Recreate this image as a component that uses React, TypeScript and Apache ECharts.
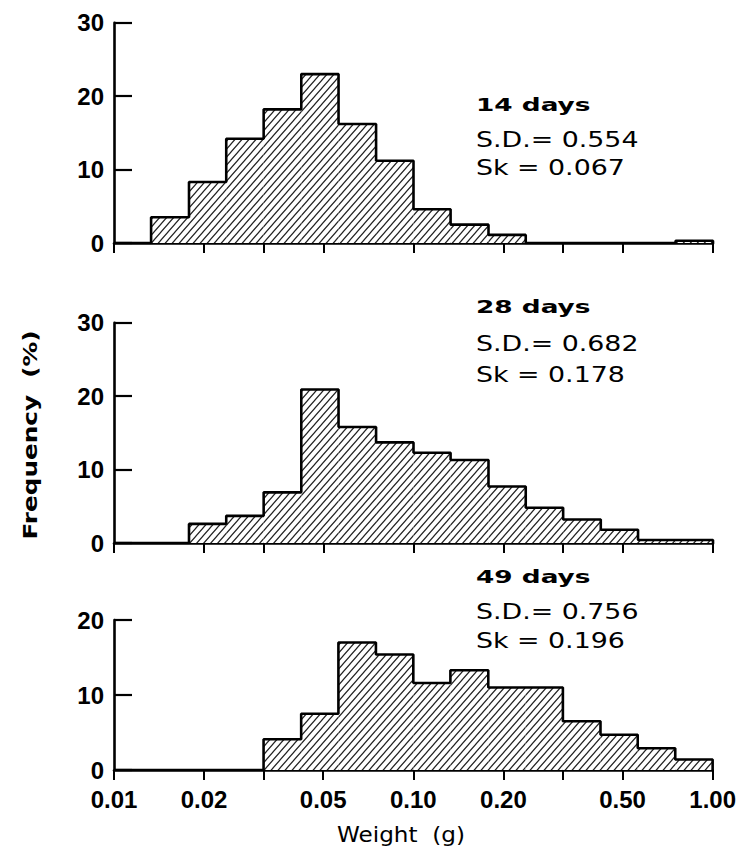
import React, { useEffect, useRef } from "react";
import * as echarts from "echarts";

// Bin edges (g), logarithmic bins, 8 per decade
const binEdges = [
  0.01, 0.0133, 0.0178, 0.0237, 0.0316, 0.0422, 0.0562, 0.075, 0.1,
  0.133, 0.178, 0.237, 0.316, 0.422, 0.562, 0.75, 1.0,
];

// Frequency (%) per bin
const freq14 = [0, 3.5, 8.3, 14.2, 18.2, 23.0, 16.2, 11.2, 4.6, 2.5, 1.1, 0, 0, 0, 0, 0.3];
const freq28 = [0, 0, 2.6, 3.7, 6.9, 20.9, 15.8, 13.7, 12.3, 11.3, 7.7, 4.8, 3.2, 1.8, 0.4, 0.4];
const freq49 = [0, 0, 0, 0, 4.1, 7.5, 17.0, 15.4, 11.6, 13.3, 11.0, 11.0, 6.5, 4.7, 2.9, 1.4];

const panelTitles = ["14 days", "28 days", "49 days"];
const panelSD = ["S.D.= 0.554", "S.D.= 0.682", "S.D.= 0.756"];
const panelSk = ["Sk = 0.067", "Sk = 0.178", "Sk = 0.196"];
const panelYMax = [30, 30, 20];

const xTickValues = [0.01, 0.02, 0.0316, 0.05, 0.1, 0.2, 0.316, 0.5, 1.0];
const xLabelValues = [0.01, 0.02, 0.05, 0.1, 0.2, 0.5, 1.0];
const xLabelTexts = ["0.01", "0.02", "0.05", "0.10", "0.20", "0.50", "1.00"];

const yAxisTitle = "Frequency  (%)";
const xAxisTitle = "Weight  (g)";

function makeHatch() {
  const w = 7;
  const h = 8;
  const c = document.createElement("canvas");
  c.width = w;
  c.height = h;
  const ctx = c.getContext("2d")!;
  ctx.fillStyle = "#ffffff";
  ctx.fillRect(0, 0, w, h);
  ctx.strokeStyle = "#222";
  ctx.lineWidth = 1.2;
  ctx.beginPath();
  for (const off of [-w, 0, w]) {
    ctx.moveTo(off - w, 2 * h);
    ctx.lineTo(off + 2 * w, -h);
  }
  ctx.stroke();
  return {
    image: c.toDataURL(),
    repeat: "repeat",
    imageWidth: w,
    imageHeight: h,
  };
}

export default function App() {
  const ref = useRef<HTMLDivElement>(null);

  useEffect(() => {
    if (!ref.current) return;
    const chart = echarts.init(ref.current, null, { renderer: "svg" });
    const hatch = makeHatch();
    const allFreq = [freq14, freq28, freq49];

    const grids = [
      { left: 114, right: 26, top: 22.7, height: 220.3 },
      { left: 114, right: 26, top: 322.7, height: 220.3 },
      { left: 114, right: 26, top: 620, height: 150 },
    ];

    const labelFont = "'Liberation Sans', Arial, sans-serif";

    const xAxes = grids.map((_, i) => ({
      type: "value",
      gridIndex: i,
      position: "bottom",
      min: -2,
      max: 0,
      axisLine: { show: true, onZero: false, lineStyle: { color: "#000", width: 2.6 } },
      axisTick: {
        show: true,
        inside: false,
        length: 10,
        customValues: xTickValues.map((v) => Math.log10(v)),
        lineStyle: { color: "#000", width: 2 },
      },
      axisLabel: {
        show: i === 2,
        customValues: xLabelValues.map((v) => Math.log10(v)),
        formatter: (v: number) => {
          const idx = xLabelValues.findIndex((t) => Math.abs(Math.log10(t) - v) < 1e-6);
          return idx >= 0 ? xLabelTexts[idx] : "";
        },
        margin: 17,
        color: "#000",
        fontFamily: labelFont,
        fontWeight: "bold",
        fontSize: 24,
      },
      splitLine: { show: false },
    }));

    const yAxes = grids.map((_, i) => ({
      type: "value",
      gridIndex: i,
      position: "left",
      min: 0,
      max: panelYMax[i],
      interval: 10,
      axisLine: { show: true, onZero: false, lineStyle: { color: "#000", width: 2.6 } },
      axisTick: { show: true, inside: true, length: 18, lineStyle: { color: "#000", width: 2.2 } },
      axisLabel: {
        margin: 10,
        color: "#000",
        fontFamily: labelFont,
        fontWeight: "bold",
        fontSize: 24,
      },
      splitLine: { show: false },
    }));

    const series: any[] = [];
    allFreq.forEach((freq, i) => {
      const rects = freq.map((v, k) => [Math.log10(binEdges[k]), Math.log10(binEdges[k + 1]), v]);
      series.push({
        type: "custom",
        xAxisIndex: i,
        yAxisIndex: i,
        encode: { x: [0, 1], y: 2 },
        data: rects,
        z: 2,
        renderItem: (params: any, api: any) => {
          const lo = api.value(0);
          const hi = api.value(1);
          const h = api.value(2);
          const p0 = api.coord([lo, h]);
          const p1 = api.coord([hi, 0]);
          return {
            type: "rect",
            shape: { x: p0[0], y: p0[1], width: p1[0] - p0[0], height: p1[1] - p0[1] },
            style: { fill: hatch as any, stroke: "none" },
          };
        },
      });
      const outline = freq.map((v, k) => [Math.log10(binEdges[k]), v]);
      outline.push([Math.log10(binEdges[binEdges.length - 1]), 0]);
      series.push({
        type: "line",
        xAxisIndex: i,
        yAxisIndex: i,
        step: "end",
        symbol: "none",
        data: outline,
        z: 3,
        lineStyle: { color: "#000", width: 2.6 },
      });
    });

    const annoY = [
      [105, 139, 167],
      [307, 343, 374],
      [577, 611, 640],
    ];
    const graphics: any[] = [];
    panelTitles.forEach((t, i) => {
      graphics.push({
        type: "text",
        x: 476,
        y: annoY[i][0],
        scaleX: 1.55,
        style: {
          text: t,
          x: 0,
          y: 0,
          fill: "#000",
          fontFamily: "'DejaVu Sans', sans-serif",
          fontWeight: "bold",
          fontSize: 17,
          align: "left",
          verticalAlign: "middle",
        },
      });
      graphics.push({
        type: "text",
        x: 476,
        y: annoY[i][1],
        scaleX: 1.22,
        style: {
          text: panelSD[i],
          x: 0,
          y: 0,
          fill: "#000",
          fontFamily: "'DejaVu Sans', sans-serif",
          fontSize: 22,
          align: "left",
          verticalAlign: "middle",
        },
      });
      graphics.push({
        type: "text",
        x: 476,
        y: annoY[i][2],
        scaleX: 1.22,
        style: {
          text: panelSk[i],
          x: 0,
          y: 0,
          fill: "#000",
          fontFamily: "'DejaVu Sans', sans-serif",
          fontSize: 22,
          align: "left",
          verticalAlign: "middle",
        },
      });
    });
    graphics.push({
      type: "text",
      x: 31,
      y: 435,
      rotation: Math.PI / 2,
      scaleX: 1.3,
      style: {
        text: yAxisTitle,
        x: 0,
        y: 0,
        fill: "#000",
        fontFamily: "'DejaVu Sans', sans-serif",
        fontWeight: "bold",
        fontSize: 19,
        align: "center",
        verticalAlign: "middle",
      },
    });
    graphics.push({
      type: "text",
      x: 401,
      y: 835,
      scaleX: 1.1,
      style: {
        text: xAxisTitle,
        x: 0,
        y: 0,
        fill: "#000",
        fontFamily: "'DejaVu Sans', sans-serif",
        fontSize: 21,
        align: "center",
        verticalAlign: "middle",
      },
    });

    chart.setOption({
      animation: false,
      backgroundColor: "#ffffff",
      grid: grids,
      xAxis: xAxes,
      yAxis: yAxes,
      series,
      graphic: graphics,
    });

    return () => {
      chart.dispose();
    };
  }, []);

  return (
    <div
      ref={ref}
      style={{ position: "fixed", left: 0, top: 0, width: 739, height: 857, background: "#fff" }}
    />
  );
}
